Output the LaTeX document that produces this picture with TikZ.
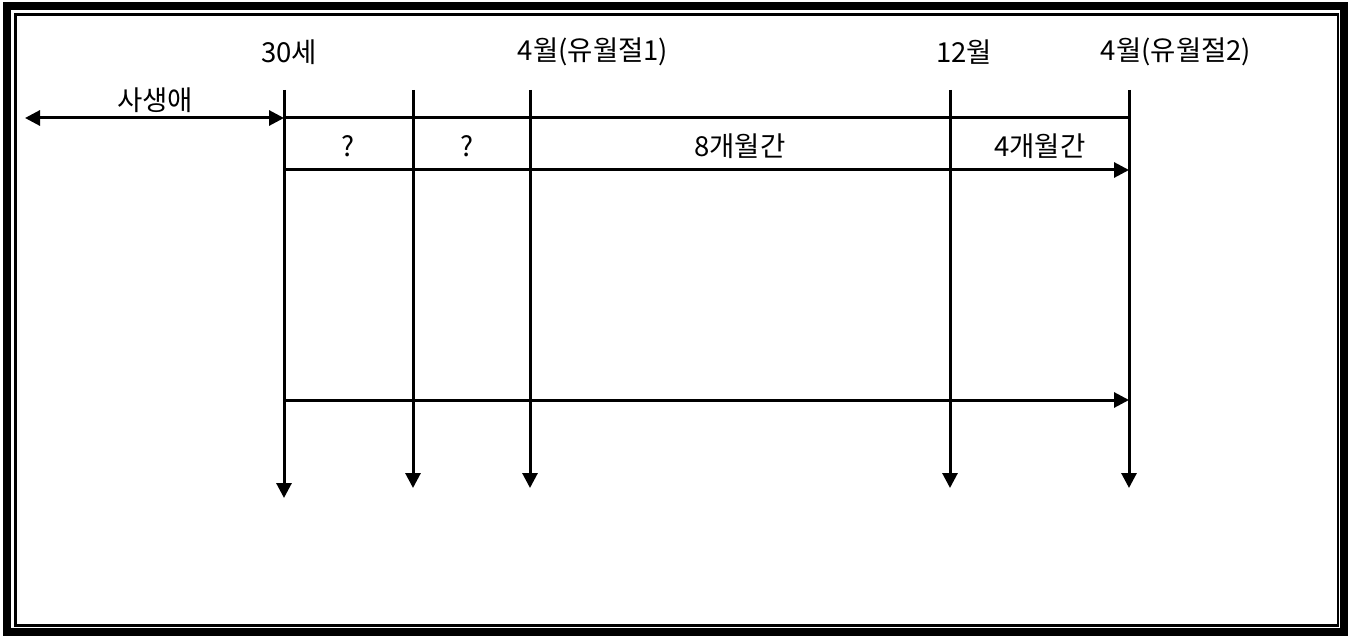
\documentclass[tikz,border=0pt]{standalone}
\usepackage{fontspec}
\setmainfont{Noto Sans CJK KR}
\usetikzlibrary{arrows.meta}
\begin{document}
\begin{tikzpicture}[x=1pt,y=-1pt,
  ln/.style={line width=3pt},
  arr/.style={ln,-{Triangle[width=15pt,length=15pt]}},
  darr/.style={ln,{Triangle[width=15pt,length=15pt]}-{Triangle[width=15pt,length=15pt]}},
  lbl/.style={font=\fontsize{27.5}{32}\selectfont,inner sep=0pt}]
\useasboundingbox (0,0) rectangle (1349,636);
% frame
\draw[line width=8pt] (7,6) rectangle (1344,632);
\draw[line width=2.2pt] (15.5,14.5) rectangle (1338,625.5);
% coordinates
\foreach \n/\x in {a/284,b/413,c/530,d/950,e/1129}{
  \coordinate (t\n) at (\x,90);
}
\coordinate (ba) at (284,498);
\coordinate (bb) at (413,488);
\coordinate (bc) at (530,488);
\coordinate (bd) at (950,488);
\coordinate (be) at (1129,488);
\coordinate (l0) at (25,118);
\coordinate (la) at (284,118);
\coordinate (le) at (1129,118);
\coordinate (ma) at (284,170);
\coordinate (me) at (1129,170);
\coordinate (na) at (284,400);
\coordinate (ne) at (1129,400);
% verticals
\foreach \n in {a,b,c,d,e}{ \draw[arr] (t\n) -- (b\n); }
% horizontals
\draw[darr] (l0) -- (la);
\draw[ln] (la) -- (le);
\draw[arr] (ma) -- (me);
\draw[arr] (na) -- (ne);
% labels
\node[lbl] (h1) at (289,52) {30세};
\node[lbl] (h2) at (593,52) {4월(유월절1)};
\node[lbl] (h3) at (964,52) {12월};
\node[lbl] (h4) at (1176,52) {4월(유월절2)};
\node[lbl] (s) at (155,100) {사생애};
\node[lbl] (q1) at (348,146) {?};
\node[lbl] (q2) at (467,146) {?};
\node[lbl] (m8) at (740,146) {8개월간};
\node[lbl] (m4) at (1040,146) {4개월간};
\end{tikzpicture}
\end{document}
